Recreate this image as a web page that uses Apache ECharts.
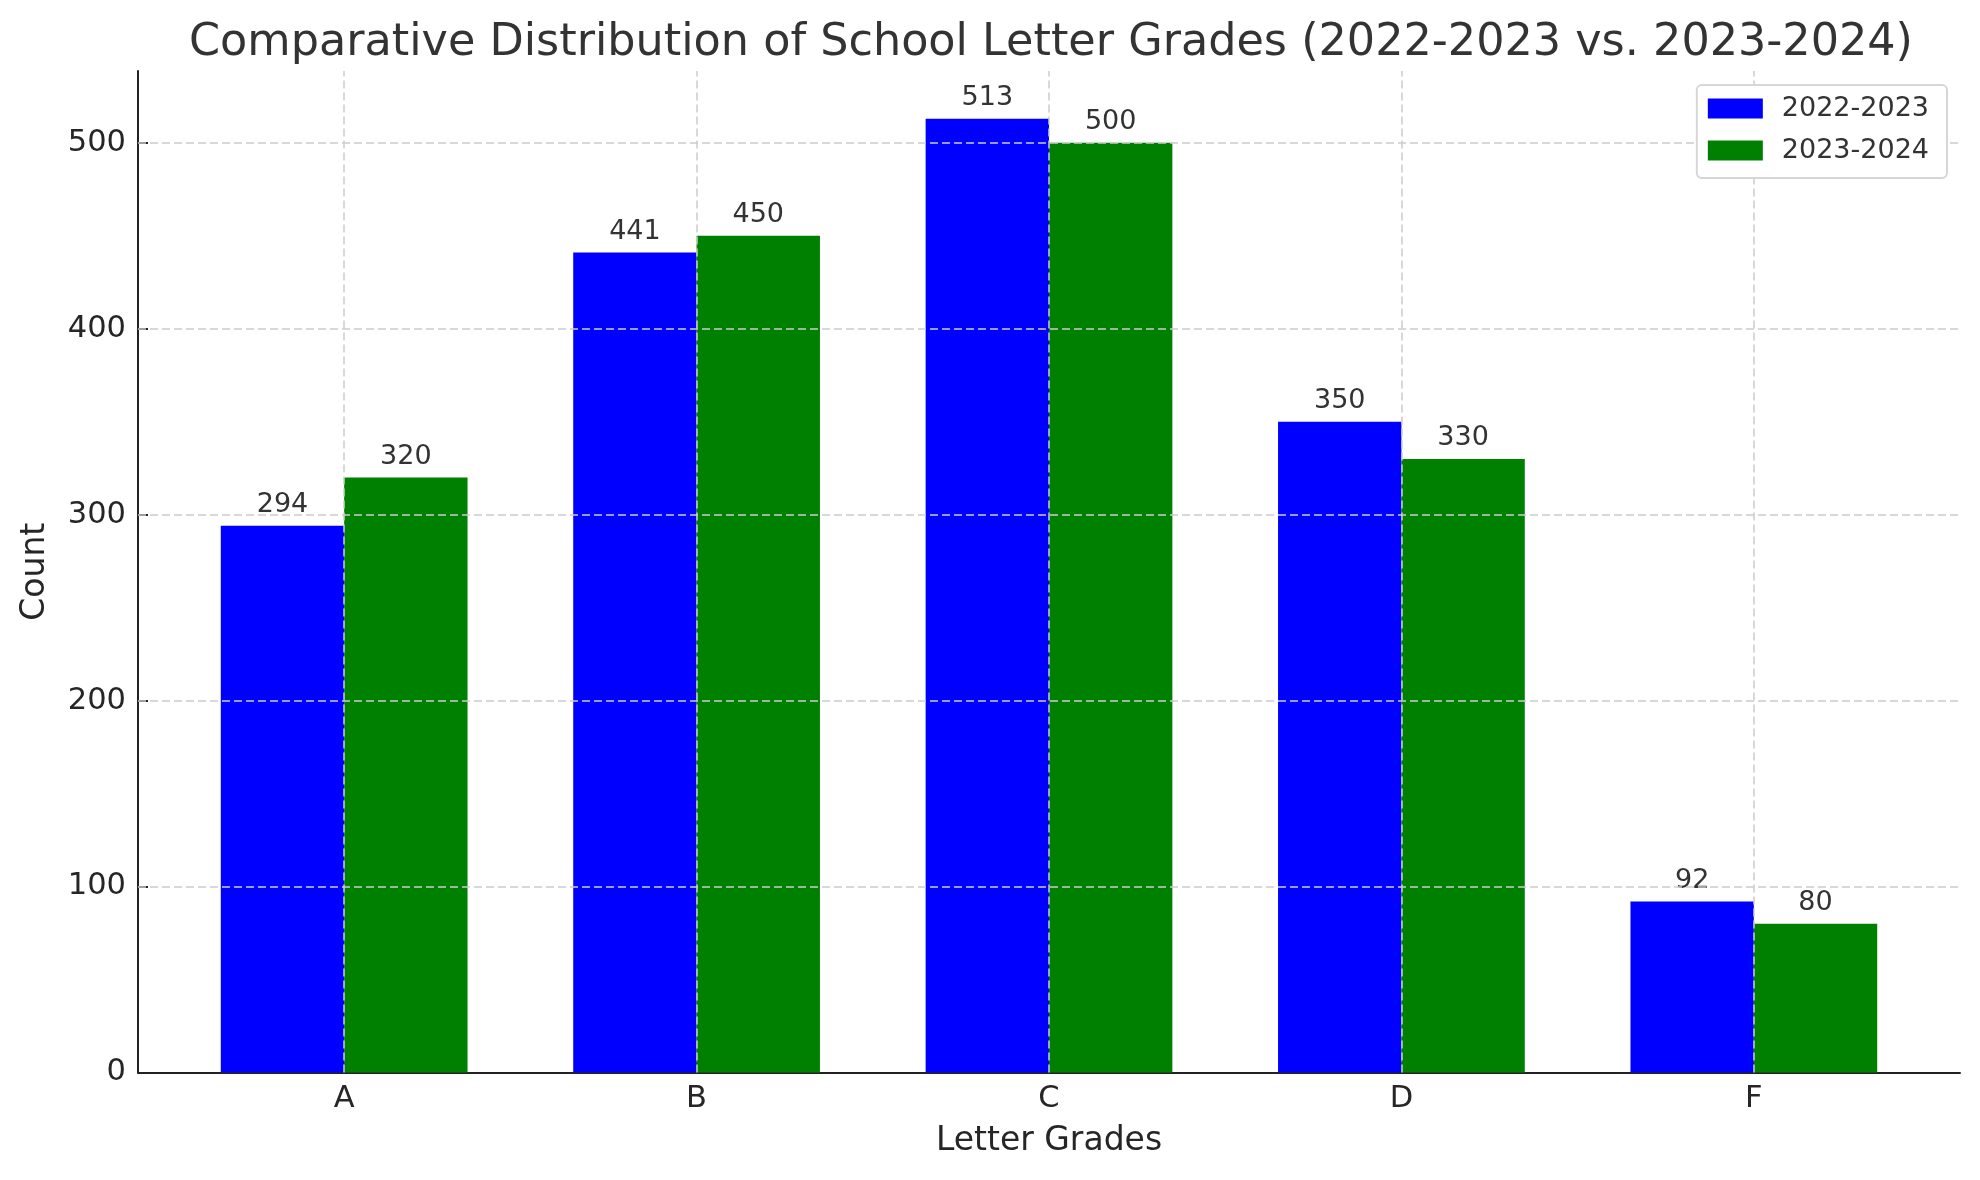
<!DOCTYPE html>
<html>
<head>
<meta charset="utf-8">
<script src="https://cdn.jsdelivr.net/npm/echarts@6/dist/echarts.min.js"></script>
<style>
  html, body { margin: 0; padding: 0; background: #fff; }
  #chart { width: 1980px; height: 1180px; }
</style>
</head>
<body>
<div id="chart"></div>
<script>
// letter grades and counts per school year
const grades = ['A', 'B', 'C', 'D', 'F']
const years = ['2022-2023', '2023-2024']
const counts2223 = [294, 441, 513, 350, 92]
const counts2324 = [320, 450, 500, 330, 80]
const yTicks = [0, 100, 200, 300, 400, 500]

const barW = 0.35 // bar width in category units
const font = 'DejaVu Sans'

// bar i sits at grade index i, shifted half a bar left / right
const toPoints = (vals, shift) => vals.map((v, i) => [i + shift, v])

const gridLine = { color: '#cccccc', width: 1.5, type: [8, 4] }

let myChart = echarts.init(document.getElementById('chart'))

const option = {
  backgroundColor: '#fff',
  animation: false,
  title: {
    text: 'Comparative Distribution of School Letter Grades (2022-2023 vs. 2023-2024)',
    left: 1046,
    textAlign: 'center',
    top: 16,
    textStyle: { fontFamily: font, fontSize: 44.5, fontWeight: 'normal', color: '#333' }
  },
  legend: {
    data: years,
    orient: 'vertical',
    right: 33,
    top: 85,
    z: 10,
    icon: 'rect',
    itemWidth: 55,
    itemHeight: 20,
    itemGap: 15,
    padding: [10, 18, 14, 11],
    borderColor: '#d6d6d6',
    borderWidth: 2,
    borderRadius: 5,
    backgroundColor: '#fff',
    textStyle: { fontFamily: font, fontSize: 27, lineHeight: 27, color: '#333', padding: [0, 0, 0, 14] }
  },
  grid: { left: 138, right: 20, top: 71, bottom: 107.5, containLabel: false },
  xAxis: {
    type: 'value',
    min: -0.585,
    max: 4.585,
    name: 'Letter Grades',
    nameLocation: 'middle',
    nameGap: 52,
    nameTextStyle: { fontFamily: font, fontSize: 33, color: '#262626' },
    axisLine: { show: true, onZero: false, lineStyle: { color: '#222', width: 2 } },
    axisTick: { show: true, inside: true, length: 10, customValues: [0, 1, 2, 3, 4], lineStyle: { color: '#222', width: 2 } },
    axisLabel: {
      customValues: [0, 1, 2, 3, 4],
      formatter: v => grades[Math.round(v)],
      margin: 11,
      fontFamily: font, fontSize: 30.5, color: '#262626'
    },
    splitLine: { show: false }
  },
  yAxis: {
    type: 'value',
    min: 0,
    max: 538.65,
    name: 'Count',
    nameLocation: 'middle',
    nameGap: 86,
    nameTextStyle: { fontFamily: font, fontSize: 33, color: '#262626' },
    axisLine: { show: true, onZero: false, lineStyle: { color: '#222', width: 2 } },
    axisTick: { show: true, inside: true, length: 10, customValues: yTicks, lineStyle: { color: '#222', width: 2 } },
    axisLabel: {
      customValues: yTicks,
      margin: 12,
      fontFamily: font, fontSize: 30.5, color: '#262626'
    },
    splitLine: { show: false }
  },
  series: [
    {
      name: years[0],
      type: 'bar',
      data: toPoints(counts2223, -barW / 2),
      barWidth: 123.4,
      barGap: '-100%',
      itemStyle: { color: '#0000ff' },
      label: { show: true, position: 'top', distance: 7, fontFamily: font, fontSize: 27, color: '#333', formatter: p => p.value[1] },
      // dashed grid drawn over the bars, like the original
      markLine: {
        silent: true,
        symbol: 'none',
        label: { show: false },
        lineStyle: gridLine,
        z: 5,
        data: grades.map((g, i) => ({ xAxis: i })).concat(yTicks.slice(1).map(t => ({ yAxis: t })))
      }
    },
    {
      name: years[1],
      type: 'bar',
      data: toPoints(counts2324, barW / 2),
      barWidth: 123.4,
      barGap: '-100%',
      itemStyle: { color: '#008000' },
      label: { show: true, position: 'top', distance: 7, fontFamily: font, fontSize: 27, color: '#333', formatter: p => p.value[1] }
    }
  ]
}

myChart.setOption(option)
window.onresize = () => {
  myChart.resize()
}
</script>
</body>
</html>
